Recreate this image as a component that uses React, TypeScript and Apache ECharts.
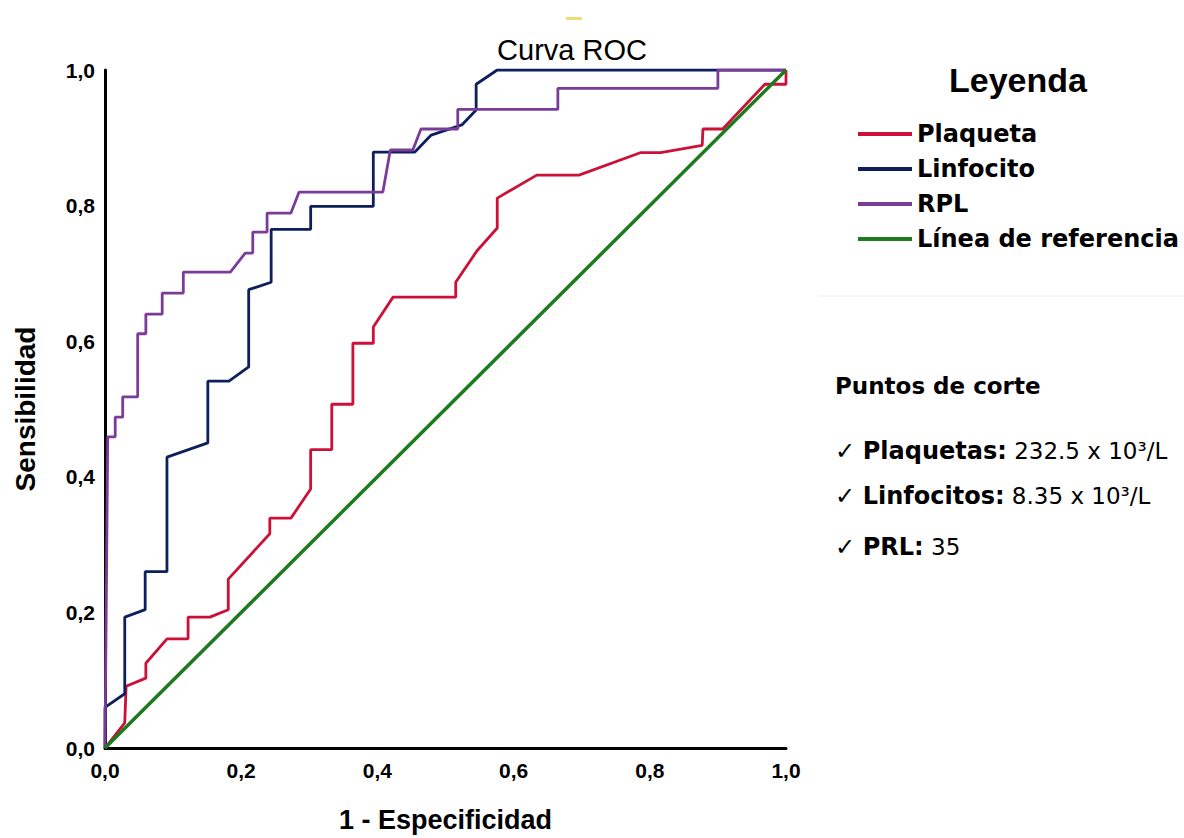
import React, { useEffect, useRef } from "react";
import * as echarts from "echarts";

// ROC curve points: [1 - especificidad, sensibilidad]
const plaquetaPoints: [number, number][] = [
  [0, 0], [0.029, 0.037], [0.031, 0.091], [0.06, 0.103], [0.06, 0.125],
  [0.091, 0.161], [0.122, 0.161], [0.122, 0.193], [0.154, 0.193], [0.181, 0.204],
  [0.181, 0.249], [0.242, 0.316], [0.242, 0.339], [0.273, 0.339], [0.302, 0.382],
  [0.302, 0.44], [0.333, 0.44], [0.333, 0.507], [0.364, 0.507], [0.364, 0.597],
  [0.394, 0.597], [0.394, 0.621], [0.423, 0.665], [0.515, 0.665], [0.515, 0.687],
  [0.546, 0.733], [0.576, 0.767], [0.576, 0.811], [0.634, 0.845], [0.696, 0.845],
  [0.786, 0.878], [0.816, 0.878], [0.877, 0.889], [0.878, 0.913], [0.907, 0.913],
  [0.969, 0.979], [1.0, 0.979], [1.0, 1.0],
];

const linfocitoPoints: [number, number][] = [
  [0, 0], [0, 0.06], [0.029, 0.08], [0.029, 0.193], [0.059, 0.204], [0.059, 0.26],
  [0.091, 0.26], [0.091, 0.429], [0.151, 0.45], [0.151, 0.541], [0.182, 0.541],
  [0.211, 0.562], [0.211, 0.676], [0.244, 0.687], [0.244, 0.765], [0.302, 0.765],
  [0.302, 0.799], [0.394, 0.799], [0.394, 0.879], [0.455, 0.879], [0.479, 0.904],
  [0.524, 0.919], [0.545, 0.941], [0.545, 0.979], [0.576, 1.0], [1.0, 1.0],
];

const rplPoints: [number, number][] = [
  [0, 0], [0.004, 0.459], [0.015, 0.459], [0.015, 0.488], [0.026, 0.488],
  [0.026, 0.518], [0.048, 0.518], [0.048, 0.611], [0.06, 0.611], [0.06, 0.64],
  [0.084, 0.64], [0.084, 0.671], [0.115, 0.671], [0.115, 0.702], [0.184, 0.702],
  [0.206, 0.73], [0.217, 0.73], [0.217, 0.761], [0.238, 0.761], [0.238, 0.789],
  [0.273, 0.789], [0.285, 0.82], [0.408, 0.82], [0.419, 0.882], [0.452, 0.882],
  [0.464, 0.913], [0.518, 0.913], [0.518, 0.942], [0.665, 0.942], [0.665, 0.973],
  [0.9, 0.973], [0.9, 1.0], [1.0, 1.0],
];

const referencePoints: [number, number][] = [[0, 0], [1, 1]];

const seriesNames = ["Plaqueta", "Linfocito", "RPL", "Línea de referencia"];
const seriesColors = ["#CC1038", "#0E1F5E", "#7A3C98", "#1E7A1E"];

const cutPoints = [
  { label: "Plaquetas:", value: " 232.5 x 10³/L" },
  { label: "Linfocitos:", value: " 8.35 x 10³/L" },
  { label: "PRL:", value: " 35" },
];

const fmt = (v: number) => v.toFixed(1).replace(".", ",");

export default function App() {
  const ref = useRef<HTMLDivElement>(null);

  useEffect(() => {
    if (!ref.current) return;
    const chart = echarts.init(ref.current, undefined, { renderer: "svg" });
    const dataSets = [plaquetaPoints, linfocitoPoints, rplPoints, referencePoints];
    const cutY = [451, 496, 547];

    const option: any = {
      animation: false,
      backgroundColor: "#ffffff",
      grid: { left: 105, top: 70, right: 398, bottom: 90, containLabel: false, outerBoundsMode: "none" },
      xAxis: {
        type: "value",
        min: 0,
        max: 1,
        interval: 0.2,
        name: "1 - Especificidad",
        nameLocation: "middle",
        nameGap: 58,
        nameTextStyle: { fontSize: 27, fontWeight: "bold", color: "#000", fontFamily: "Liberation Sans" },
        axisLine: { show: true, lineStyle: { color: "#000", width: 3 } },
        axisTick: { show: false },
        splitLine: { show: false },
        axisLabel: { formatter: fmt, fontSize: 21, fontWeight: "bold", color: "#000", margin: 12, fontFamily: "Liberation Sans" },
      },
      yAxis: {
        type: "value",
        min: 0,
        max: 1,
        interval: 0.2,
        name: "Sensibilidad",
        nameLocation: "middle",
        nameRotate: 90,
        nameGap: 66,
        nameTextStyle: { fontSize: 28, fontWeight: "bold", color: "#000", fontFamily: "Liberation Sans" },
        axisLine: { show: true, lineStyle: { color: "#000", width: 3 } },
        axisTick: { show: false },
        splitLine: { show: false },
        axisLabel: { formatter: fmt, fontSize: 21, fontWeight: "bold", color: "#000", margin: 10, fontFamily: "Liberation Sans" },
      },
      legend: {
        orient: "vertical",
        left: 853,
        top: 117,
        itemWidth: 54,
        itemHeight: 4,
        itemGap: 11,
        icon: "rect",
        data: seriesNames,
        selectedMode: false,
        textStyle: { fontSize: 24, fontWeight: "bold", fontFamily: "DejaVu Sans", color: "#000", lineHeight: 24 },
      },
      series: seriesNames.map((name, i) => ({
        name,
        type: "line",
        data: dataSets[i],
        showSymbol: false,
        symbol: "none",
        color: seriesColors[i],
        lineStyle: { color: seriesColors[i], width: i === 3 ? 3.5 : 2.8 },
        z: 2 + i,
      })),
      graphic: [
        {
          type: "rect",
          shape: { x: 566, y: 17, width: 16, height: 3 },
          style: { fill: "#F5DA78" },
        },
        {
          type: "text",
          x: 572,
          y: 50,
          style: { text: "Curva ROC", fontSize: 29, fontFamily: "Liberation Sans", fill: "#000", textAlign: "center", textVerticalAlign: "middle" },
        },
        {
          type: "text",
          x: 1018,
          y: 80,
          style: { text: "Leyenda", fontSize: 34, fontWeight: "bold", fontFamily: "Liberation Sans", fill: "#000", textAlign: "center", textVerticalAlign: "middle" },
        },
        {
          type: "line",
          shape: { x1: 818, y1: 296, x2: 1184, y2: 296 },
          style: { stroke: "#EEEEEE", lineWidth: 1 },
        },
        {
          type: "text",
          x: 835,
          y: 386,
          style: { text: "Puntos de corte", fontSize: 23, fontWeight: "bold", fontFamily: "DejaVu Sans", fill: "#000", textAlign: "left", textVerticalAlign: "middle" },
        },
        ...cutPoints.map((c, i) => ({
          type: "text",
          x: 835,
          y: cutY[i],
          style: {
            text: `{c|✓ }{b|${c.label}}{n|${c.value}}`,
            textAlign: "left",
            textVerticalAlign: "middle",
            rich: {
              c: { fontSize: 24, fontFamily: "DejaVu Sans", fill: "#000" },
              b: { fontSize: 24, fontWeight: "bold", fontFamily: "DejaVu Sans", fill: "#000" },
              n: { fontSize: 23, fontFamily: "DejaVu Sans", fill: "#000" },
            },
          },
        })),
      ],
    };

    chart.setOption(option);
    return () => chart.dispose();
  }, []);

  return (
    <div
      ref={ref}
      style={{ position: "absolute", left: 0, top: 0, width: 1184, height: 838, background: "#fff" }}
    />
  );
}
